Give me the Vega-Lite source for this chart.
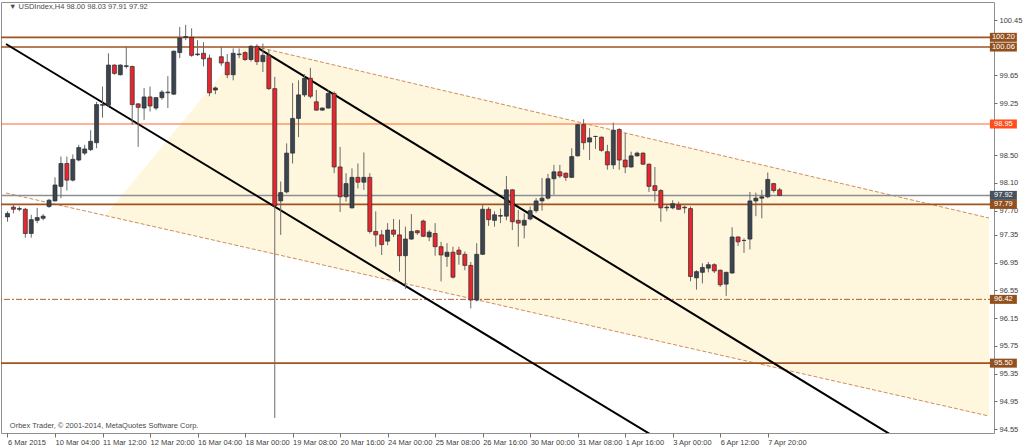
{
"$schema":"https://vega.github.io/schema/vega-lite/v6.json",
"width":993,"height":431,
"autosize":{"type":"none"},
"padding":{"left":1,"top":2,"right":30,"bottom":14},
"background":"white",
"config":{"view":{"stroke":"#8f8f8f","strokeWidth":1},"font":"Liberation Sans"},
"resolve":{"axis":{"x":"independent","y":"independent"}},
"datasets":{
"candles":[
{"i":0,"o":97.61,"h":97.69,"l":97.54,"c":97.66},{"i":1,"o":97.75,"h":97.78,"l":97.66,"c":97.72},{"i":2,"o":97.72,"h":97.76,"l":97.69,"c":97.73},{"i":3,"o":97.72,"h":97.74,"l":97.31,"c":97.37},{"i":4,"o":97.37,"h":97.64,"l":97.31,"c":97.57},{"i":5,"o":97.56,"h":97.74,"l":97.52,"c":97.6},{"i":6,"o":97.59,"h":97.65,"l":97.56,"c":97.62},{"i":7,"o":97.76,"h":97.87,"l":97.74,"c":97.85},{"i":8,"o":97.84,"h":98.18,"l":97.83,"c":98.07},{"i":9,"o":98.05,"h":98.48,"l":97.88,"c":98.38},
{"i":10,"o":98.38,"h":98.48,"l":97.99,"c":98.14},{"i":11,"o":98.14,"h":98.51,"l":98.12,"c":98.44},{"i":12,"o":98.43,"h":98.65,"l":98.41,"c":98.61},{"i":13,"o":98.53,"h":98.65,"l":98.5,"c":98.59},{"i":14,"o":98.58,"h":98.86,"l":98.56,"c":98.7},{"i":15,"o":98.68,"h":99.27,"l":98.6,"c":99.23},{"i":16,"o":99.23,"h":99.49,"l":99.04,"c":99.22},{"i":17,"o":99.22,"h":99.97,"l":99.2,"c":99.8},{"i":18,"o":99.8,"h":99.81,"l":99.66,"c":99.68},{"i":19,"o":99.66,"h":99.81,"l":99.65,"c":99.8},
{"i":20,"o":99.78,"h":100.07,"l":99.75,"c":99.79},{"i":21,"o":99.78,"h":99.79,"l":98.94,"c":99.23},{"i":22,"o":99.24,"h":99.25,"l":98.62,"c":99.19},{"i":23,"o":99.18,"h":99.47,"l":99.01,"c":99.34},{"i":24,"o":99.34,"h":99.49,"l":99.13,"c":99.21},{"i":25,"o":99.18,"h":99.34,"l":99.15,"c":99.33},{"i":26,"o":99.33,"h":99.44,"l":99.3,"c":99.41},{"i":27,"o":99.4,"h":99.64,"l":99.18,"c":99.41},{"i":28,"o":99.38,"h":100.01,"l":99.37,"c":100.0},{"i":29,"o":99.98,"h":100.35,"l":99.9,"c":100.19},
{"i":30,"o":100.2,"h":100.38,"l":100.16,"c":100.21},{"i":31,"o":100.2,"h":100.33,"l":99.92,"c":99.94},{"i":32,"o":99.95,"h":100.16,"l":99.93,"c":99.96},{"i":33,"o":99.97,"h":100.13,"l":99.78,"c":99.89},{"i":34,"o":99.9,"h":99.95,"l":99.35,"c":99.4},{"i":35,"o":99.44,"h":99.49,"l":99.38,"c":99.47},{"i":36,"o":99.92,"h":100.06,"l":99.79,"c":99.83},{"i":37,"o":99.84,"h":99.96,"l":99.61,"c":99.66},{"i":38,"o":99.66,"h":100.04,"l":99.58,"c":99.97},{"i":39,"o":99.95,"h":100.04,"l":99.9,"c":99.96},
{"i":40,"o":99.98,"h":100.0,"l":99.86,"c":99.88},{"i":41,"o":99.88,"h":100.09,"l":99.85,"c":100.07},{"i":42,"o":100.07,"h":100.1,"l":99.8,"c":99.85},{"i":43,"o":99.85,"h":100.11,"l":99.7,"c":99.94},{"i":44,"o":99.94,"h":100.02,"l":99.44,"c":99.46},{"i":45,"o":99.46,"h":99.63,"l":94.71,"c":97.77},{"i":46,"o":97.84,"h":98.12,"l":97.35,"c":97.96},{"i":47,"o":97.97,"h":98.67,"l":97.95,"c":98.53},{"i":48,"o":98.53,"h":99.54,"l":98.38,"c":99.03},{"i":49,"o":99.03,"h":99.58,"l":98.76,"c":99.37},
{"i":50,"o":99.37,"h":99.67,"l":99.34,"c":99.61},{"i":51,"o":99.61,"h":99.76,"l":99.32,"c":99.35},{"i":52,"o":99.27,"h":99.44,"l":99.14,"c":99.15},{"i":53,"o":99.15,"h":99.19,"l":99.14,"c":99.18},{"i":54,"o":99.18,"h":99.44,"l":99.17,"c":99.39},{"i":55,"o":99.39,"h":99.42,"l":98.24,"c":98.33},{"i":56,"o":98.33,"h":98.62,"l":97.68,"c":97.9},{"i":57,"o":97.9,"h":98.24,"l":97.83,"c":98.09},{"i":58,"o":97.74,"h":98.31,"l":97.73,"c":98.18},{"i":59,"o":98.18,"h":98.38,"l":98.02,"c":98.11},
{"i":60,"o":98.11,"h":98.54,"l":98.0,"c":98.18},{"i":61,"o":98.18,"h":98.24,"l":97.37,"c":97.4},{"i":62,"o":97.4,"h":97.69,"l":97.18,"c":97.35},{"i":63,"o":97.35,"h":97.42,"l":97.06,"c":97.21},{"i":64,"o":97.26,"h":97.52,"l":97.2,"c":97.42},{"i":65,"o":97.42,"h":97.58,"l":97.32,"c":97.36},{"i":66,"o":97.35,"h":97.57,"l":96.82,"c":97.05},{"i":67,"o":97.05,"h":97.47,"l":96.57,"c":97.29},{"i":68,"o":97.29,"h":97.65,"l":97.28,"c":97.4},{"i":69,"o":97.41,"h":97.42,"l":97.35,"c":97.38},
{"i":70,"o":97.55,"h":97.57,"l":97.32,"c":97.33},{"i":71,"o":97.32,"h":97.42,"l":97.26,"c":97.39},{"i":72,"o":97.37,"h":97.52,"l":97.05,"c":97.18},{"i":73,"o":97.18,"h":97.25,"l":96.68,"c":97.06},{"i":74,"o":97.04,"h":97.23,"l":96.89,"c":97.1},{"i":75,"o":97.1,"h":97.18,"l":96.72,"c":96.74},{"i":76,"o":97.13,"h":97.18,"l":96.92,"c":97.07},{"i":77,"o":97.07,"h":97.11,"l":96.84,"c":96.91},{"i":78,"o":96.91,"h":96.96,"l":96.29,"c":96.41},{"i":79,"o":96.41,"h":97.23,"l":96.39,"c":97.07},
{"i":80,"o":97.07,"h":97.78,"l":97.06,"c":97.72},{"i":81,"o":97.72,"h":97.75,"l":97.48,"c":97.57},{"i":82,"o":97.56,"h":97.69,"l":97.47,"c":97.64},{"i":83,"o":97.62,"h":97.73,"l":97.52,"c":97.63},{"i":84,"o":97.62,"h":98.2,"l":97.56,"c":98.0},{"i":85,"o":98.0,"h":98.01,"l":97.42,"c":97.54},{"i":86,"o":97.56,"h":97.71,"l":97.18,"c":97.52},{"i":87,"o":97.49,"h":97.66,"l":97.3,"c":97.56},{"i":88,"o":97.58,"h":97.76,"l":97.56,"c":97.7},{"i":89,"o":97.7,"h":97.88,"l":97.67,"c":97.84},
{"i":90,"o":97.84,"h":98.17,"l":97.7,"c":97.88},{"i":91,"o":97.88,"h":98.23,"l":97.86,"c":98.16},{"i":92,"o":98.16,"h":98.36,"l":97.93,"c":98.26},{"i":93,"o":98.26,"h":98.36,"l":98.17,"c":98.2},{"i":94,"o":98.24,"h":98.25,"l":98.13,"c":98.18},{"i":95,"o":98.18,"h":98.6,"l":98.17,"c":98.48},{"i":96,"o":98.49,"h":98.95,"l":98.48,"c":98.94},{"i":97,"o":98.94,"h":99.02,"l":98.58,"c":98.68},{"i":98,"o":98.69,"h":98.89,"l":98.43,"c":98.75},{"i":99,"o":98.77,"h":98.78,"l":98.59,"c":98.77},
{"i":100,"o":98.76,"h":98.77,"l":98.55,"c":98.57},{"i":101,"o":98.55,"h":98.65,"l":98.29,"c":98.36},{"i":102,"o":98.36,"h":98.97,"l":98.3,"c":98.86},{"i":103,"o":98.87,"h":98.89,"l":98.29,"c":98.43},{"i":104,"o":98.43,"h":98.82,"l":98.24,"c":98.33},{"i":105,"o":98.33,"h":98.55,"l":98.32,"c":98.49},{"i":106,"o":98.49,"h":98.55,"l":98.48,"c":98.53},{"i":107,"o":98.53,"h":98.54,"l":98.36,"c":98.37},{"i":108,"o":98.37,"h":98.38,"l":97.97,"c":98.05},{"i":109,"o":98.06,"h":98.33,"l":97.83,"c":97.99},
{"i":110,"o":97.99,"h":98.01,"l":97.54,"c":97.74},{"i":111,"o":97.74,"h":97.78,"l":97.69,"c":97.75},{"i":112,"o":97.74,"h":97.85,"l":97.72,"c":97.8},{"i":113,"o":97.78,"h":97.83,"l":97.71,"c":97.72},{"i":114,"o":97.75,"h":97.77,"l":97.66,"c":97.74},{"i":115,"o":97.73,"h":97.76,"l":96.68,"c":96.75},{"i":116,"o":96.73,"h":96.84,"l":96.56,"c":96.82},{"i":117,"o":96.81,"h":96.94,"l":96.65,"c":96.88},{"i":118,"o":96.87,"h":96.96,"l":96.81,"c":96.92},{"i":119,"o":96.92,"h":96.94,"l":96.8,"c":96.83},
{"i":120,"o":96.84,"h":96.85,"l":96.6,"c":96.63},{"i":121,"o":96.64,"h":96.82,"l":96.47,"c":96.81},{"i":122,"o":96.8,"h":97.46,"l":96.79,"c":97.32},{"i":123,"o":97.32,"h":97.33,"l":97.19,"c":97.25},{"i":124,"o":97.27,"h":97.3,"l":97.09,"c":97.27},{"i":125,"o":97.29,"h":97.97,"l":97.14,"c":97.84},{"i":126,"o":97.84,"h":97.96,"l":97.62,"c":97.88},{"i":127,"o":97.88,"h":98.0,"l":97.59,"c":97.9},{"i":128,"o":97.9,"h":98.25,"l":97.88,"c":98.15},{"i":129,"o":98.09,"h":98.1,"l":97.96,"c":97.99},
{"i":130,"o":98.0,"h":98.03,"l":97.91,"c":97.92}
],
"channelFill":[{"i":16.42,"top":97.63,"bottom":97.63},{"i":39.75,"top":100.046,"bottom":97.177},{"i":42.75,"top":100.046,"bottom":97.118},{"i":165.25,"top":97.594,"bottom":94.737}],
"channelLines":[{"line":"upper","i":42.75,"p":100.046},{"line":"upper","i":165.25,"p":97.594},{"line":"lower","i":-0.25,"p":97.954},{"line":"lower","i":165.25,"p":94.737}],
"trendLines":[{"line":"t1","i":-0.25,"p":100.104},{"line":"t1","i":116.25,"p":94.058},{"line":"t2","i":41.92,"p":100.06},{"line":"t2","i":157.9,"p":93.987}],
"levelsSolid":[{"p":100.2},{"p":100.06},{"p":97.79},{"p":95.5}],
"levelDashDot":[{"p":96.42}],
"levelAlert":[{"p":98.95}],
"levelBid":[{"p":97.92}],
"priceTags":[{"p":100.2,"kind":"level"},{"p":100.06,"kind":"level"},{"p":98.95,"kind":"alert"},{"p":97.92,"kind":"bid"},{"p":97.79,"kind":"level"},{"p":96.42,"kind":"level"},{"p":95.5,"kind":"level"}]
},
"layer":[
{"data":{"name":"channelFill"},"mark":{"type":"area","clip":true,"color":"#FFF6DE","opacity":1},
 "encoding":{"x":{"field":"i","type":"quantitative","scale":{"domain":[-0.25,165.25],"nice":false,"zero":false},"axis":null},
 "y":{"field":"top","type":"quantitative","scale":{"domain":[94.4923,100.7097],"nice":false,"zero":false},"axis":null},"y2":{"field":"bottom"}}},
{"data":{"name":"channelLines"},"mark":{"type":"line","clip":true,"color":"#CF8E5C","strokeWidth":1,"strokeDash":[4,2]},
 "encoding":{"x":{"field":"i","type":"quantitative","scale":{"domain":[-0.25,165.25],"nice":false,"zero":false},"axis":null},
 "y":{"field":"p","type":"quantitative","scale":{"domain":[94.4923,100.7097],"nice":false,"zero":false},"axis":null},"detail":{"field":"line"}}},
{"data":{"name":"levelsSolid"},"mark":{"type":"rule","color":"#A0521F","strokeWidth":1.6},
 "encoding":{"y":{"field":"p","type":"quantitative","scale":{"domain":[94.4923,100.7097],"nice":false,"zero":false},"axis":null}}},
{"data":{"name":"levelDashDot"},"mark":{"type":"rule","color":"#B0602A","strokeWidth":1,"strokeDash":[6,2,2,2]},
 "encoding":{"y":{"field":"p","type":"quantitative","scale":{"domain":[94.4923,100.7097],"nice":false,"zero":false},"axis":null}}},
{"data":{"name":"levelAlert"},"mark":{"type":"rule","color":"#FF6A2B","strokeWidth":1},
 "encoding":{"y":{"field":"p","type":"quantitative","scale":{"domain":[94.4923,100.7097],"nice":false,"zero":false},"axis":null}}},
{"data":{"name":"levelBid"},"mark":{"type":"rule","color":"#8E8E8E","strokeWidth":1.5},
 "encoding":{"y":{"field":"p","type":"quantitative","scale":{"domain":[94.4923,100.7097],"nice":false,"zero":false},"axis":null}}},
{"data":{"name":"trendLines"},"mark":{"type":"line","clip":true,"color":"#000000","strokeWidth":2},
 "encoding":{"x":{"field":"i","type":"quantitative","scale":{"domain":[-0.25,165.25],"nice":false,"zero":false},"axis":null},
 "y":{"field":"p","type":"quantitative","scale":{"domain":[94.4923,100.7097],"nice":false,"zero":false},"axis":null},"detail":{"field":"line"}}},
{"data":{"name":"candles"},"mark":{"type":"rule","color":"#6a6a6a","strokeWidth":1},
 "encoding":{"x":{"field":"i","type":"quantitative","scale":{"domain":[-0.25,165.25],"nice":false,"zero":false},
   "axis":{"orient":"bottom","title":null,"values":[0,8,16,24,32,40,48,56,64,72,80,88,96,104,112,120,128],
   "labelExpr":"['6 Mar 2015','10 Mar 04:00','11 Mar 12:00','12 Mar 20:00','16 Mar 04:00','18 Mar 00:00','19 Mar 08:00','20 Mar 16:00','24 Mar 00:00','25 Mar 08:00','26 Mar 16:00','30 Mar 00:00','31 Mar 08:00','1 Apr 16:00','3 Apr 00:00','6 Apr 12:00','7 Apr 20:00'][round(datum.value/8)]",
   "grid":false,"domain":false,"tickSize":4,"tickColor":"#707070","labelAlign":"left","labelPadding":1,"labelColor":"#404040","labelFont":"Liberation Sans","labelFontSize":7.5,"labelOverlap":false,"labelFlush":false,"labelBound":false}},
 "y":{"field":"l","type":"quantitative","scale":{"domain":[94.4923,100.7097],"nice":false,"zero":false},
   "axis":{"orient":"right","title":null,"values":[100.45,99.65,99.25,98.5,98.1,97.7,97.35,96.95,96.55,96.15,95.75,95.35,94.95,94.55],"format":".2f",
   "grid":false,"domain":false,"tickSize":3,"tickColor":"#707070","labelAlign":"left","labelPadding":2,"labelColor":"#404040","labelFont":"Liberation Sans","labelFontSize":7.5,"labelOverlap":false,"labelFlush":false,"labelBound":false}},
 "y2":{"field":"h"}}},
{"data":{"name":"candles"},"mark":{"type":"bar","width":4,"stroke":"#2b2b2b","strokeWidth":0.7},
 "encoding":{"x":{"field":"i","type":"quantitative","scale":{"domain":[-0.25,165.25],"nice":false,"zero":false},"axis":null},
 "y":{"field":"o","type":"quantitative","scale":{"domain":[94.4923,100.7097],"nice":false,"zero":false},"axis":null},"y2":{"field":"c"},
 "color":{"condition":{"test":"datum.c < datum.o","value":"#E8262E"},"value":"#3A4551"}}},
{"data":{"name":"priceTags"},"mark":{"type":"tick","orient":"horizontal","size":27,"thickness":9,"opacity":1},
 "encoding":{"x":{"datum":167.67,"type":"quantitative","scale":{"domain":[-0.25,165.25],"nice":false,"zero":false},"axis":null},
 "y":{"field":"p","type":"quantitative","scale":{"domain":[94.4923,100.7097],"nice":false,"zero":false},"axis":null},
 "color":{"field":"kind","type":"nominal","scale":{"domain":["level","alert","bid"],"range":["#93501F","#FF4D1C","#46525E"]},"legend":null}}},
{"data":{"name":"priceTags"},"mark":{"type":"text","color":"#ffffff","fontSize":7.5,"align":"center","baseline":"middle","font":"Liberation Sans"},
 "encoding":{"x":{"datum":167.67,"type":"quantitative","scale":{"domain":[-0.25,165.25],"nice":false,"zero":false},"axis":null},
 "y":{"field":"p","type":"quantitative","scale":{"domain":[94.4923,100.7097],"nice":false,"zero":false},"axis":null},
 "text":{"field":"p","type":"quantitative","format":".2f"}}},
{"data":{"values":[{"t":"▼ USDIndex,H4  98.00 98.03 97.91 97.92"}]},"mark":{"type":"text","color":"#4a4a4a","fontSize":7.5,"align":"left","baseline":"middle","font":"Liberation Sans"},
 "encoding":{"x":{"datum":0.25,"type":"quantitative","scale":{"domain":[-0.25,165.25],"nice":false,"zero":false},"axis":null},
 "y":{"datum":100.633,"type":"quantitative","scale":{"domain":[94.4923,100.7097],"nice":false,"zero":false},"axis":null},
 "text":{"field":"t"}}},
{"data":{"values":[{"t":"Orbex Trader, © 2001-2014, MetaQuotes Software Corp."}]},"mark":{"type":"text","color":"#4a4a4a","fontSize":7.5,"align":"left","baseline":"middle","font":"Liberation Sans"},
 "encoding":{"x":{"datum":0.4,"type":"quantitative","scale":{"domain":[-0.25,165.25],"nice":false,"zero":false},"axis":null},
 "y":{"datum":94.6,"type":"quantitative","scale":{"domain":[94.4923,100.7097],"nice":false,"zero":false},"axis":null},
 "text":{"field":"t"}}}
]
}
